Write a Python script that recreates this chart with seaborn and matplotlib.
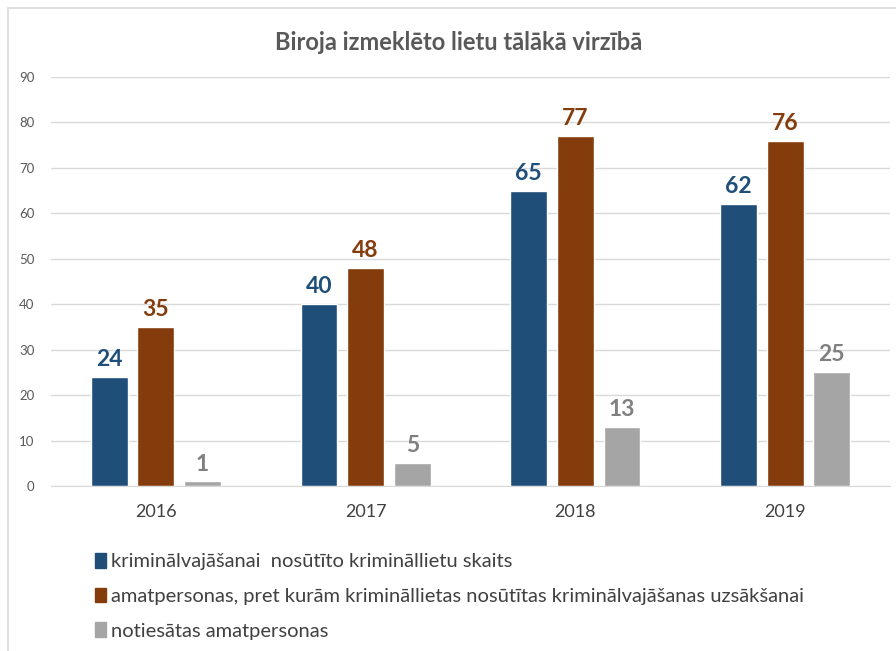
import pandas as pd
import matplotlib.pyplot as plt
import seaborn as sns
from matplotlib.patches import Rectangle

# chart values
years = ['2016', '2017', '2018', '2019']
series_names = [
    'kriminālvajāšanai  nosūtīto krimināllietu skaits',
    'amatpersonas, pret kurām krimināllietas nosūtītas kriminālvajāšanas uzsākšanai',
    'notiesātas amatpersonas',
]
sent_cases = [24, 40, 65, 62]
officials_charged = [35, 48, 77, 76]
officials_convicted = [1, 5, 13, 25]
colors = ['#1F4E79', '#843C0C', '#A5A5A5']
label_colors = ['#1F4E79', '#843C0C', '#808080']

data = pd.DataFrame({
    'year': years * 3,
    'series': [series_names[0]] * 4 + [series_names[1]] * 4 + [series_names[2]] * 4,
    'value': sent_cases + officials_charged + officials_convicted,
})

sns.set_style('white')
plt.rcParams['font.family'] = ['Lato', 'DejaVu Sans']

fig = plt.figure(figsize=(8.96, 6.51), dpi=100)
ax = fig.add_axes([51 / 896, 1 - 486 / 651, 839 / 896, 409 / 651])

sns.barplot(data=data, x='year', y='value', hue='series', hue_order=series_names,
            order=years, palette=colors, width=0.667, gap=0.21, saturation=1,
            legend=False, ax=ax)

for cont, col in zip(ax.containers, label_colors):
    ax.bar_label(cont, padding=5, color=col, fontsize=16.5, fontweight='bold')

ax.set_ylim(0, 90)
ax.set_yticks(range(0, 91, 10))
ax.set_xlim(-0.5, 3.5)
ax.yaxis.grid(True, color='#D9D9D9', linewidth=1)
ax.set_axisbelow(True)
for side in ['top', 'right', 'left']:
    ax.spines[side].set_visible(False)
ax.spines['bottom'].set_color('#D9D9D9')
ax.tick_params(axis='y', length=0, pad=12, labelsize=9.5, labelcolor='#595959')
ax.tick_params(axis='x', length=0, pad=13, labelsize=13, labelcolor='#404040')
ax.set_xlabel('')
ax.set_ylabel('')

fig.text(459 / 896, 1 - 42 / 651, 'Biroja izmeklēto lietu tālākā virzībā',
         ha='center', va='center', fontsize=17, fontweight='bold', color='#595959')

handles = [Rectangle((0, 0), 1, 1, color=c) for c in colors]
fig.legend(handles, series_names, loc='upper left', bbox_to_anchor=(85 / 896, 1 - 543 / 651),
           frameon=False, fontsize=14.5, labelcolor='#404040', handlelength=0.55,
           handleheight=0.75, handletextpad=0.25, labelspacing=0.85, borderpad=0)

# outer chart frame
fig.patches.append(Rectangle((8 / 896, -0.1), 1.1, 1 - 8 / 651 + 0.1, transform=fig.transFigure,
                             fill=False, edgecolor='#D9D9D9', linewidth=1.2))

plt.savefig('out.png', dpi=100)
